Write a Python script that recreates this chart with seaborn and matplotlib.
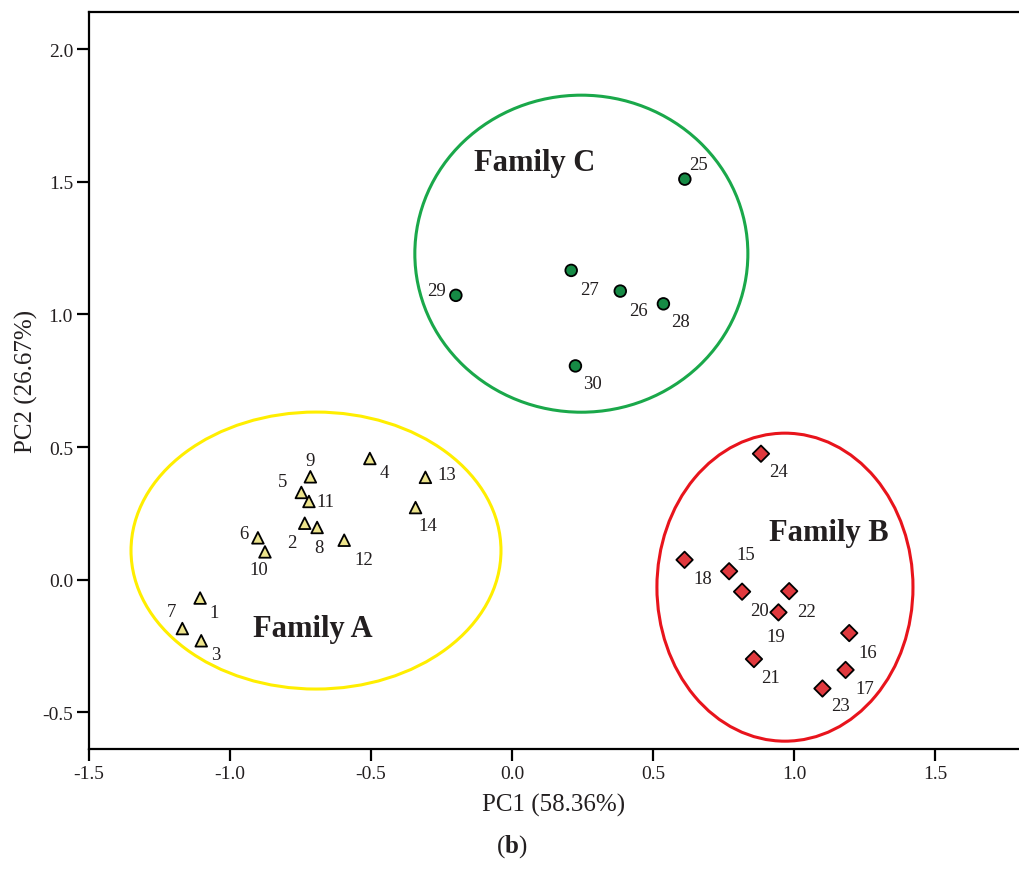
import matplotlib
matplotlib.use("Agg")
import matplotlib.pyplot as plt
import seaborn as sns
import pandas as pd
from matplotlib.patches import Ellipse

# ---- data ----
ids_a = [1, 2, 3, 4, 5, 6, 7, 8, 9, 10, 11, 12, 13, 14]
pc1_a = [-1.106, -0.735, -1.102, -0.504, -0.747, -0.901, -1.169, -0.691, -0.715, -0.876, -0.720, -0.595, -0.307, -0.342]
pc2_a = [-0.069, 0.213, -0.230, 0.457, 0.329, 0.158, -0.184, 0.197, 0.388, 0.105, 0.295, 0.149, 0.386, 0.272]

ids_b = [15, 16, 17, 18, 19, 20, 21, 22, 23, 24]
pc1_b = [0.770, 1.196, 1.183, 0.612, 0.945, 0.816, 0.858, 0.983, 1.101, 0.883]
pc2_b = [0.032, -0.201, -0.340, 0.075, -0.123, -0.045, -0.299, -0.043, -0.410, 0.475]

ids_c = [25, 26, 27, 28, 29, 30]
pc1_c = [0.613, 0.384, 0.210, 0.537, -0.199, 0.225]
pc2_c = [1.510, 1.088, 1.166, 1.040, 1.072, 0.806]

families = ["Family A", "Family B", "Family C"]
x_ticks = [-1.5, -1.0, -0.5, 0.0, 0.5, 1.0, 1.5]
y_ticks = [-0.5, 0.0, 0.5, 1.0, 1.5, 2.0]

# label offsets in pixels (dx right, dy down)
label_off = {
    1: (14, 14), 2: (-13, 19), 3: (15, 14), 4: (14, 14), 5: (-19, -11), 6: (-14, -4),
    7: (-11, -17), 8: (2, 20), 9: (0, -16), 10: (-6, 18), 11: (16, 0), 12: (20, 19),
    13: (21, -3), 14: (12, 18),
    15: (17, -17), 16: (18, 19), 17: (19, 19), 18: (18, 19), 19: (-3, 24), 20: (17, 19),
    21: (17, 18), 22: (17, 20), 23: (18, 17), 24: (18, 18),
    25: (14, -15), 26: (18, 19), 27: (18, 19), 28: (17, 18), 29: (-19, -5), 30: (17, 18),
}

# ---- frame ----
df = pd.DataFrame({
    "id": ids_a + ids_b + ids_c,
    "PC1": pc1_a + pc1_b + pc1_c,
    "PC2": pc2_a + pc2_b + pc2_c,
    "family": ["Family A"] * len(ids_a) + ["Family B"] * len(ids_b) + ["Family C"] * len(ids_c),
})

sns.set_theme(style="white")
plt.rcParams["font.family"] = ["Liberation Serif", "DejaVu Serif"]
plt.rcParams["mathtext.fontset"] = "custom"
plt.rcParams["mathtext.rm"] = "Liberation Serif"
plt.rcParams["mathtext.bf"] = "Liberation Serif:bold"
txt_color = "#231F20"

fig = plt.figure(figsize=(10.19, 8.79), dpi=100)
ax = fig.add_axes([89 / 1019, 129 / 879, 1 - 89 / 1019, (750 - 13) / 879])

# ellipses
ell_specs = [
    ((-0.695, 0.110), 1.312, 1.044, "#FFEE00"),
    ((0.968, -0.028), 0.908, 1.161, "#E8141C"),
    ((0.246, 1.229), 1.181, 1.195, "#1AA84A"),
]
for (c, w, h, col) in ell_specs:
    ax.add_patch(Ellipse(c, w, h, fill=False, edgecolor=col, linewidth=2.2, zorder=1))

sns.scatterplot(
    data=df, x="PC1", y="PC2", hue="family", style="family",
    hue_order=families, style_order=families,
    palette={"Family A": "#EDE48C", "Family B": "#E0393E", "Family C": "#168A45"},
    markers={"Family A": "^", "Family B": "D", "Family C": "o"},
    s=70, edgecolor="black", linewidth=1.3, legend=False, ax=ax, zorder=3,
)

for i, x, y in zip(df["id"], df["PC1"], df["PC2"]):
    dx, dy = label_off[i]
    ax.annotate(str(i), (x, y), xytext=(dx, -dy), textcoords="offset pixels",
                ha="center", va="center", fontsize=13.5, color=txt_color)

# family labels
ax.text(-0.705, -0.185, "Family A", fontsize=22, fontweight="bold", ha="center", va="center", color=txt_color)
ax.text(1.124, 0.179, "Family B", fontsize=22, fontweight="bold", ha="center", va="center", color=txt_color)
ax.text(0.081, 1.574, "Family C", fontsize=22, fontweight="bold", ha="center", va="center", color=txt_color)

ax.set_xlim(-1.5, 1.798)
ax.set_ylim(-0.638, 2.14)
ax.set_xticks(x_ticks)
ax.set_yticks(y_ticks)
ax.set_xticklabels([f"{v:.1f}" for v in x_ticks])
ax.set_yticklabels([f"{v:.1f}" for v in y_ticks])
ax.tick_params(axis="both", direction="out", length=8.5, width=1.6, color="black",
               labelsize=14, labelcolor=txt_color, pad=3, left=True, bottom=True)

for side in ["left", "bottom", "top"]:
    ax.spines[side].set_visible(True)
    ax.spines[side].set_color("black")
    ax.spines[side].set_linewidth(1.6)
ax.spines["right"].set_visible(False)

ax.set_xlabel("PC1 (58.36%)", fontsize=18, color=txt_color, labelpad=8)
ax.set_ylabel("PC2 (26.67%)", fontsize=18, color=txt_color, labelpad=3)

fig.text(512 / 1019, 1 - 847 / 879, r"($\mathbf{b}$)", fontsize=18, ha="center", va="center",
         color=txt_color)

fig.savefig("out.png", dpi=100, facecolor="white")
